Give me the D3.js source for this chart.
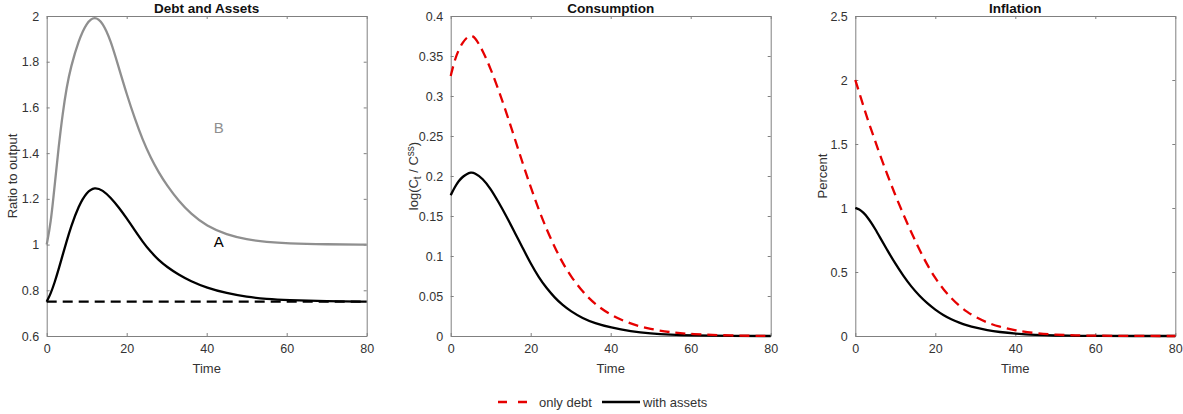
<!DOCTYPE html>
<html>
<head>
<meta charset="utf-8">
<script src="https://cdn.jsdelivr.net/npm/d3@7"></script>
<style>
  body { margin: 0; background: #fff; }
  svg text { font-family: "Liberation Sans", Arial, sans-serif; }
</style>
</head>
<body>
<script>
// ---- data ----
var time = [0, 1, 2, 3, 4, 5, 6, 8, 10, 12, 14, 16, 18, 20, 22, 24, 26, 28, 30, 33, 36, 40, 45, 50, 55, 60, 70, 80];

// Debt and Assets panel
var debtB = [1.00, 1.09, 1.26, 1.43, 1.575, 1.69, 1.775, 1.895, 1.972, 2.00, 1.972, 1.893, 1.775, 1.658, 1.552, 1.457, 1.38, 1.315, 1.26, 1.19, 1.135, 1.08, 1.043, 1.022, 1.011, 1.005, 1.001, 1.0];
var debtA = [0.75, 0.785, 0.835, 0.893, 0.955, 1.015, 1.075, 1.17, 1.23, 1.252, 1.238, 1.205, 1.163, 1.115, 1.063, 1.012, 0.968, 0.932, 0.903, 0.868, 0.840, 0.811, 0.787, 0.771, 0.762, 0.757, 0.752, 0.75];
var debtFlat = [0.75, 0.75];
var debtFlatTime = [0, 80];

// Consumption panel
var consOnlyDebt = [0.325, 0.345, 0.358, 0.367, 0.373, 0.376, 0.374, 0.357, 0.334, 0.307, 0.278, 0.247, 0.216, 0.186, 0.158, 0.133, 0.111, 0.091, 0.075, 0.055, 0.040, 0.026, 0.015, 0.0085, 0.0045, 0.0023, 0.0005, 0.0];
var consWithAssets = [0.176, 0.186, 0.194, 0.199, 0.2025, 0.2045, 0.204, 0.197, 0.184, 0.167, 0.149, 0.1295, 0.11, 0.0905, 0.0735, 0.0595, 0.048, 0.0385, 0.031, 0.022, 0.016, 0.0105, 0.0058, 0.003, 0.0015, 0.0007, 0.0001, 0.0];

// Inflation panel
var inflOnlyDebt = [2.0, 1.90, 1.80, 1.70, 1.61, 1.52, 1.43, 1.26, 1.10, 0.95, 0.81, 0.675, 0.555, 0.45, 0.365, 0.295, 0.235, 0.187, 0.148, 0.104, 0.072, 0.043, 0.021, 0.010, 0.005, 0.0024, 0.0005, 0.0];
var inflWithAssets = [1.0, 0.99, 0.965, 0.93, 0.885, 0.835, 0.78, 0.67, 0.565, 0.47, 0.385, 0.315, 0.255, 0.205, 0.163, 0.13, 0.103, 0.082, 0.065, 0.045, 0.031, 0.018, 0.008, 0.0035, 0.0015, 0.0006, 0.0001, 0.0];

// tick labels
var xTicks = [0, 20, 40, 60, 80];
var debtTicks = [0.6, 0.8, 1, 1.2, 1.4, 1.6, 1.8, 2];
var consTicks = [0, 0.05, 0.1, 0.15, 0.2, 0.25, 0.3, 0.35, 0.4];
var inflTicks = [0, 0.5, 1, 1.5, 2, 2.5];

var titles = ["Debt and Assets", "Consumption", "Inflation"];
var legendLabels = ["only debt", "with assets"];

// ---- layout ----
var width = 1183;
var height = 414;
var plotTop = 16;
var plotSize = 320;
var panelLeft = [46.7, 450.7, 855.3];

var axisColor = "#808080";
var textColor = "#333";
var red = "#e60000";
var grey = "#8f8f8f";

var svg = d3.select("body")
            .append("svg")
            .attr("width", width)
            .attr("height", height);

function drawPanel(i, yDomain, yTicks, series, ylabel, ylabelX) {
  var g = svg.append("g").attr("transform", `translate(${panelLeft[i]}, ${plotTop})`);

  var x = d3.scaleLinear().domain([0, 80]).range([0, plotSize]);
  var y = d3.scaleLinear().domain(yDomain).range([plotSize, 0]);

  // axes, ticks pointing inward on all four sides
  var bottom = g.append("g").attr("transform", `translate(0, ${plotSize})`)
                .call(d3.axisBottom(x).tickValues(xTicks).tickSizeInner(-3).tickSizeOuter(0).tickPadding(8).tickFormat(d3.format("")));
  var left = g.append("g")
              .call(d3.axisLeft(y).tickValues(yTicks).tickSizeInner(-3).tickSizeOuter(0).tickPadding(7.5).tickFormat(function(d) { return String(+d.toFixed(3)); }));
  var top = g.append("g")
             .call(d3.axisTop(x).tickValues(xTicks).tickSizeInner(-3).tickSizeOuter(0).tickFormat(""));
  var right = g.append("g").attr("transform", `translate(${plotSize}, 0)`)
               .call(d3.axisRight(y).tickValues(yTicks).tickSizeInner(-3).tickSizeOuter(0).tickFormat(""));

  [bottom, left, top, right].forEach(function(a) {
    a.selectAll("path, line").attr("stroke", axisColor);
    a.selectAll("text").attr("fill", textColor).style("font-size", "12.5px");
  });

  // lines
  series.forEach(function(s) {
    var t = s.t || time;
    var line = d3.line()
                 .x(function(d, k) { return x(t[k]); })
                 .y(function(d) { return y(d); })
                 .curve(d3.curveBasis);
    g.append("path")
     .datum(s.values)
     .attr("d", line)
     .attr("fill", "none")
     .attr("stroke", s.color)
     .attr("stroke-width", 2.3)
     .attr("stroke-dasharray", s.dash ? "10,6" : null);
  });

  // title
  g.append("text")
   .attr("x", plotSize / 2)
   .attr("y", -3.5)
   .attr("text-anchor", "middle")
   .style("font-size", "13.5px")
   .style("font-weight", "bold")
   .attr("fill", "#111")
   .text(titles[i]);

  // x label
  g.append("text")
   .attr("x", plotSize / 2)
   .attr("y", plotSize + 37)
   .attr("text-anchor", "middle")
   .style("font-size", "13px")
   .attr("fill", textColor)
   .text("Time");

  // y label
  var yl = g.append("text")
            .attr("transform", `translate(${ylabelX}, ${plotSize / 2}) rotate(-90)`)
            .attr("dy", "0.35em")
            .attr("text-anchor", "middle")
            .style("font-size", "13px")
            .attr("fill", textColor);
  ylabel(yl);

  return {g: g, x: x, y: y};
}

// panel 1
var p1 = drawPanel(0, [0.6, 2], debtTicks, [
  {values: debtFlat, t: debtFlatTime, color: "#000", dash: true},
  {values: debtB, color: grey},
  {values: debtA, color: "#000"}
], function(t) { t.text("Ratio to output"); }, -34);

p1.g.append("text").attr("x", p1.x(43)).attr("y", p1.y(1.5)).attr("dy", "0.15em")
    .attr("text-anchor", "middle").style("font-size", "15px").attr("fill", grey).text("B");
p1.g.append("text").attr("x", p1.x(43)).attr("y", p1.y(1.0)).attr("dy", "0.15em")
    .attr("text-anchor", "middle").style("font-size", "15px").attr("fill", "#000").text("A");

// panel 2
drawPanel(1, [0, 0.4], consTicks, [
  {values: consWithAssets, color: "#000"},
  {values: consOnlyDebt, color: red, dash: true}
], function(t) {
  t.append("tspan").text("log(C");
  t.append("tspan").attr("baseline-shift", "-25%").style("font-size", "10px").text("t");
  t.append("tspan").text(" / C");
  t.append("tspan").attr("baseline-shift", "40%").style("font-size", "10px").text("ss");
  t.append("tspan").text(")");
}, -37);

// panel 3
drawPanel(2, [0, 2.5], inflTicks, [
  {values: inflWithAssets, color: "#000"},
  {values: inflOnlyDebt, color: red, dash: true}
], function(t) { t.text("Percent"); }, -33);

// legend
var legend = svg.append("g").attr("transform", "translate(498, 402)");
var legendItems = [
  {x: 0, len: 29, color: red, dash: true, textX: 41},
  {x: 104, len: 38, color: "#000", dash: false, textX: 145}
];
legendItems.forEach(function(it, k) {
  legend.append("line")
        .attr("x1", it.x).attr("x2", it.x + it.len)
        .attr("y1", 0).attr("y2", 0)
        .attr("stroke", it.color)
        .attr("stroke-width", 2.3)
        .attr("stroke-dasharray", it.dash ? "9,11" : null);
  legend.append("text")
        .attr("x", it.textX)
        .attr("y", 0)
        .attr("dy", "0.35em")
        .style("font-size", "13px")
        .attr("fill", textColor)
        .text(legendLabels[k]);
});
</script>
</body>
</html>
